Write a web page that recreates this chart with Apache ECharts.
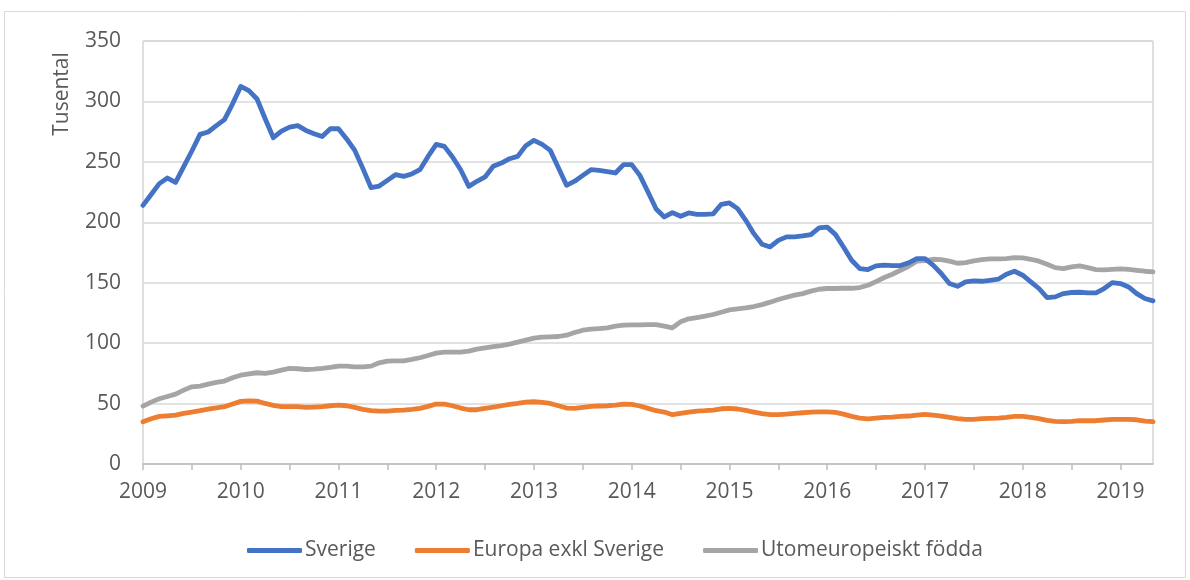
<!DOCTYPE html>
<html>
<head>
<meta charset="utf-8">
<script src="https://cdn.jsdelivr.net/npm/echarts@6/dist/echarts.min.js"></script>
<style>
  html, body { margin: 0; padding: 0; background: #fff; }
  #chart { width: 1190px; height: 580px; }
</style>
</head>
<body>
<div id="chart"></div>
<script>
// Monthly series, Jan 2009 – May 2019 (thousands)
const sverige = [
  214, 223, 232, 236.6, 233, 246, 259, 272.7, 274.7, 280, 285, 298,
  312.4, 309, 302, 285.7, 270, 275.5, 278.8, 280, 276, 273.3, 271, 277.4,
  277.4, 269, 259.5, 244.4, 228.6, 230, 234.7, 239.4, 238, 240, 243.5, 254.5,
  264.5, 262.8, 254, 243.5, 229.7, 233.9, 237.5, 246.3, 249, 252.6, 254.5, 263.4,
  267.8, 264.5, 259.5, 245.2, 230.6, 234, 238.8, 243.5, 243, 241.9, 240.8, 247.7,
  247.7, 238.8, 225, 211, 204.4, 208, 205, 207.7, 206.6, 206.6, 207, 214.9,
  216, 211.3, 201.6, 190.6, 181.8, 179.6, 185, 187.9, 187.9, 188.7, 189.8, 195.3,
  196, 190, 179.6, 168.6, 161.7, 160.9, 163.9, 164.5, 164.2, 164.2, 166.4, 170,
  170, 164.5, 157.6, 149.3, 147, 150.7, 151.5, 151.2, 152, 152.9, 157, 159.5,
  156.2, 150.7, 145.2, 137.7, 138.3, 141, 141.9, 142.1, 141.6, 141.6, 145.2, 150.1,
  149.3, 146.5, 141, 136.9, 135
];
const europa = [
  34.9, 37.4, 39.4, 39.9, 40.5, 41.9, 43, 44.1, 45.4, 46.5, 47.4, 49.6,
  51.8, 52.3, 52, 50.1, 48.5, 47.4, 47.4, 47.4, 46.8, 47.1, 47.4, 48.2,
  48.7, 48.2, 46.8, 45.2, 44.1, 43.8, 43.8, 44.3, 44.6, 45.2, 46, 47.7,
  49.6, 49.6, 48.2, 46.3, 44.9, 44.9, 46, 47.1, 48.2, 49.3, 50.1, 51.2,
  51.5, 50.9, 50.1, 48.2, 46.3, 46, 46.8, 47.7, 48, 48.2, 48.7, 49.6,
  49.3, 48, 46, 44.1, 43, 40.8, 41.9, 43, 43.8, 44.1, 44.6, 45.7,
  46, 45.5, 44.3, 43, 41.6, 40.8, 40.8, 41.3, 41.9, 42.4, 43, 43.2,
  43.2, 42.7, 41.3, 39.4, 38, 37.4, 38, 38.6, 38.8, 39.4, 39.7, 40.5,
  41, 40.5, 39.7, 38.6, 37.5, 36.9, 36.9, 37.5, 37.7, 38, 38.6, 39.4,
  39.4, 38.6, 37.5, 36.1, 35.2, 35, 35.2, 35.8, 35.8, 35.8, 36.4, 36.9,
  36.9, 36.9, 36.6, 35.5, 35
];
const utomeuropeiskt = [
  47.9, 51.2, 54, 55.9, 57.8, 61.1, 63.9, 64.4, 66.1, 67.5, 68.6, 71.3,
  73.5, 74.6, 75.5, 74.9, 76, 77.7, 79.1, 78.8, 78.2, 78.5, 79.1, 79.9,
  81, 81, 80.4, 80.4, 81, 83.7, 85.1, 85.4, 85.4, 86.5, 87.9, 89.8,
  91.7, 92.5, 92.5, 92.5, 93.4, 95, 96.1, 97.2, 98, 99.2, 100.8, 102.5,
  104.1, 104.9, 105.2, 105.5, 106.6, 108.8, 110.7, 111.6, 112.1, 112.7, 114.1, 114.9,
  115.1, 115.1, 115.4, 115.4, 114, 112.7, 117.6, 120.1, 121.2, 122.3, 123.7, 125.6,
  127.5, 128.4, 129.2, 130.3, 131.9, 133.9, 136.1, 138, 139.7, 141, 143, 144.6,
  145.2, 145.2, 145.4, 145.4, 146, 147.9, 150.9, 154.3, 157, 160.3, 163.6, 167.8,
  168.3, 169.4, 169.1, 167.8, 166.1, 166.7, 168, 169.1, 169.7, 169.7, 170, 170.8,
  170.5, 169.4, 167.8, 165.3, 162.5, 161.7, 163.1, 163.9, 162.5, 160.9, 160.6, 161.1,
  161.4, 161.1, 160.3, 159.5, 159
];
const seriesNames = ['Sverige', 'Europa exkl Sverige', 'Utomeuropeiskt födda'];
const seriesColors = ['#4472C4', '#ED7D31', '#A5A5A5'];

// month categories "2009-01" ... one per data point
const months = sverige.map((_, i) => {
  const y = 2009 + Math.floor(i / 12);
  const m = (i % 12) + 1;
  return `${y}-${m < 10 ? '0' + m : m}`;
});

const FONT = 'Open Sans, sans-serif';
const TEXT = '#595959';
const FS = 21;

const chart = echarts.init(document.getElementById('chart'), null, { renderer: 'canvas' });

const lineSeries = [sverige, europa, utomeuropeiskt].map((data, k) => ({
  name: seriesNames[k],
  type: 'line',
  data,
  symbol: 'none',
  smooth: false,
  lineStyle: { color: seriesColors[k], width: 4.8, cap: 'round', join: 'round' },
  itemStyle: { color: seriesColors[k] },
  z: k === 0 ? 4 : 3,
}));

chart.setOption({
  animation: false,
  backgroundColor: '#fff',
  graphic: [
    {
      type: 'rect',
      shape: { x: 4.5, y: 11.5, width: 1181, height: 566 },
      style: { fill: 'none', stroke: '#d9d9d9', lineWidth: 1 },
      silent: true,
    },
    {
      type: 'text',
      x: 62, y: 94,
      rotation: Math.PI / 2,
      style: {
        text: 'Tusental', fontSize: FS, fontFamily: FONT, fill: TEXT,
        align: 'center', verticalAlign: 'middle',
      },
    },
  ],
  grid: {
    left: 143, right: 37, top: 41, bottom: 116,
    show: true, borderColor: '#bfbfbf', borderWidth: 1,
  },
  legend: {
    left: 242, top: 535,
    icon: 'roundRect',
    itemWidth: 55, itemHeight: 5, itemGap: 39,
    textStyle: { color: TEXT, fontSize: FS, fontFamily: FONT, padding: [0, 0, 0, -2] },
    data: seriesNames,
  },
  xAxis: {
    type: 'category',
    data: months,
    boundaryGap: false,
    axisLine: { lineStyle: { color: '#bfbfbf', width: 1.5 } },
    axisTick: {
      show: true, length: 6, inside: false,
      interval: (i) => i % 6 === 0,
      lineStyle: { color: '#bfbfbf', width: 1.5 },
    },
    axisLabel: {
      interval: (i) => i % 12 === 0,
      formatter: (v) => v.slice(0, 4),
      color: TEXT, fontSize: FS, fontFamily: FONT, margin: 18,
    },
    splitLine: { show: false },
  },
  yAxis: {
    type: 'value',
    min: 0, max: 350, interval: 50,
    axisLine: { show: false },
    axisTick: { show: false },
    axisLabel: { color: TEXT, fontSize: FS, fontFamily: FONT, margin: 22 },
    splitLine: { lineStyle: { color: '#d9d9d9', width: 1.5 } },
  },
  series: lineSeries,
});
</script>
</body>
</html>
